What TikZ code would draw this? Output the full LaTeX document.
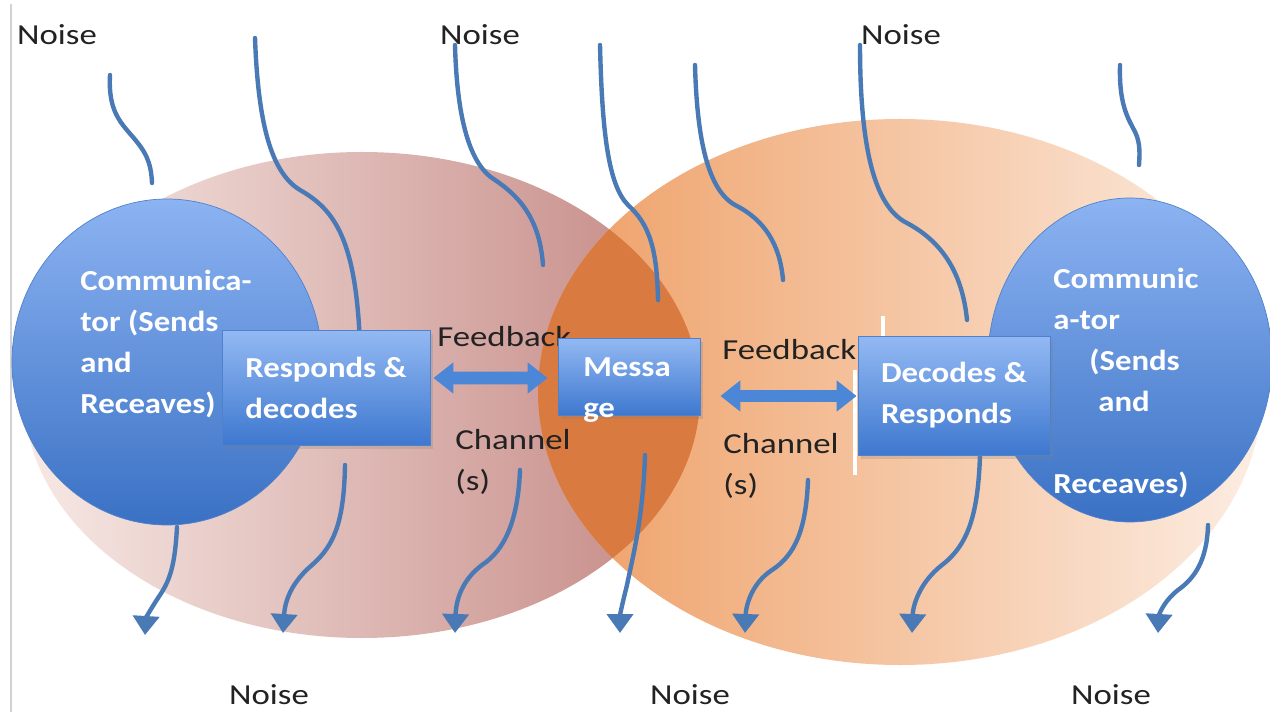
\documentclass[tikz,border=0pt]{standalone}
\usepackage{fontspec}
\setmainfont{Carlito}[FakeStretch=1.2,BoldFeatures={FakeStretch=1.13}]
\usetikzlibrary{arrows.meta,shadows}

\definecolor{noiseblue}{HTML}{4A7AB6}
\definecolor{roseL}{HTML}{F7E9E5}
\definecolor{roseM}{HTML}{D9ACA5}
\definecolor{roseR}{HTML}{C48783}
\definecolor{peachL}{HTML}{EE9E64}
\definecolor{peachM}{HTML}{F2B185}
\definecolor{peachR}{HTML}{FCEDE2}
\definecolor{overlap}{HTML}{D97A41}
\definecolor{commtop}{HTML}{8CB3F2}
\definecolor{commbot}{HTML}{3A71C4}
\definecolor{boxtop}{HTML}{93B9F3}
\definecolor{boxbot}{HTML}{3E78CF}
\definecolor{boxedge}{HTML}{4F82CC}
\definecolor{chanblue}{HTML}{4C86D6}
\definecolor{ink}{HTML}{222222}

\begin{document}
\begin{tikzpicture}[x=0.02cm,y=-0.02cm,line join=round,
  font=\fontsize{16.5}{23.3}\selectfont,
  noise/.style={draw=noiseblue,line width=2.5pt,line cap=round},
  noisearr/.style={noise,-{Triangle[length=0.38cm,width=0.52cm]}},
  lbl/.style={inner sep=0pt,text=ink,align=left},
  circtxt/.style={inner sep=0pt,text=white,align=left,font=\fontsize{16.5}{23.3}\selectfont\bfseries},
  bluebox/.style={draw=boxedge,line width=0.5pt,top color=boxtop,bottom color=boxbot,
    text=white,align=left,inner sep=0pt,font=\fontsize{16.5}{23.3}\selectfont\bfseries,
    drop shadow={opacity=0.25,shadow xshift=1.5pt,shadow yshift=-2pt}},
  dblarrow/.style={draw=chanblue,line width=0.26cm,
    {Triangle[length=0.4cm,width=0.6cm]}-{Triangle[length=0.4cm,width=0.6cm]}}]

  \useasboundingbox (0,0) rectangle (1270,712);
  \fill[white] (0,0) rectangle (1270,712);
  \draw[gray!35,line width=1pt] (11,4) -- (11,712);

  % ---- the two fields of experience -----------------------------------------
  \shade[left color=roseL,middle color=roseM,right color=roseR]
    (362,395) ellipse [x radius=338,y radius=243];
  \shade[left color=peachL,middle color=peachM,right color=peachR]
    (900,392) ellipse [x radius=362,y radius=273];
  \begin{scope}
    \clip (362,395) ellipse [x radius=338,y radius=243];
    \fill[overlap] (900,392) ellipse [x radius=362,y radius=273];
  \end{scope}

  % ---- noise coming in from above -------------------------------------------
  \draw[noise] (110,75) .. controls (108,110) and (120,122) .. (132,136)
                        .. controls (146,152) and (151,162) .. (152,183);
  \draw[noise] (255,38) .. controls (258,120) and (270,172) .. (300,190)
                        .. controls (335,210) and (356,240) .. (360,345);
  \draw[noise] (455,45) .. controls (457,120) and (470,165) .. (495,180)
                        .. controls (525,200) and (540,225) .. (543,265);
  \draw[noise] (600,45) .. controls (602,130) and (608,185) .. (628,205)
                        .. controls (650,225) and (657,250) .. (658,300);
  \draw[noise] (695,65) .. controls (697,140) and (708,190) .. (735,205)
                        .. controls (765,220) and (780,245) .. (783,280);
  \draw[noise] (860,45) .. controls (860,150) and (875,205) .. (905,222)
                        .. controls (940,240) and (962,270) .. (967,320);
  \draw[noise] (1120,65) .. controls (1119,100) and (1126,115) .. (1133,128)
                         .. controls (1140,140) and (1140,150) .. (1139,165);

  % ---- noise going out below ------------------------------------------------
  \draw[noisearr] (177,527) .. controls (175,565) and (170,580) .. (160,595)
                            .. controls (150,610) and (146,618) .. (145,635);
  \draw[noisearr] (345,465) .. controls (344,520) and (335,545) .. (312,565)
                            .. controls (292,582) and (285,600) .. (283,633);
  \draw[noisearr] (520,470) .. controls (518,520) and (505,550) .. (482,565)
                            .. controls (462,580) and (456,600) .. (455,633);
  \draw[noisearr] (645,455) .. controls (643,520) and (632,560) .. (627,585)
                            .. controls (622,605) and (620,615) .. (620,633);
  \draw[noisearr] (808,480) .. controls (806,530) and (795,555) .. (772,570)
                            .. controls (752,583) and (746,605) .. (745,633);
  \draw[noisearr] (980,455) .. controls (978,515) and (968,545) .. (942,565)
                            .. controls (920,582) and (913,605) .. (912,633);
  \draw[noisearr] (1208,525) .. controls (1207,560) and (1195,578) .. (1178,590)
                             .. controls (1163,602) and (1159,615) .. (1158,633);

  % ---- the two communicators ------------------------------------------------
  \shade[top color=commtop,bottom color=commbot,draw=boxedge,line width=0.4pt]
    (167,362) ellipse [x radius=155,y radius=163];
  \shade[top color=commtop,bottom color=commbot,draw=boxedge,line width=0.4pt]
    (1130,360) ellipse [x radius=142,y radius=162];
  \node[circtxt,anchor=west] (lcomm) at (80,344)
    {Communica-\\tor (Sends\\and\\Receaves)};
  \node[circtxt,anchor=west] (rcomm) at (1053,383)
    {Communic\\a-tor\\\hspace*{0.72cm}(Sends\\\hspace*{0.9cm}and\\[0.82cm]Receaves)};

  % ---- channel labels -------------------------------------------------------
  \node[lbl,anchor=west] (lfeed) at (437,337) {Feedback};
  \node[lbl,anchor=west] (lchan) at (455,462) {Channel\\(s)};
  \node[lbl,anchor=west] (rfeed) at (722,350) {Feedbackl};
  \node[lbl,anchor=west] (rchan) at (723,466) {Channel\\(s)};
  \draw[white,line width=2pt] (855,370) -- (855,475) (883,316) -- (883,337);

  % ---- boxes ----------------------------------------------------------------
  \node[bluebox,minimum width=4.16cm,minimum height=2.3cm] (resp) at (326,387.5)
    {Responds \&\\decodes};
  \node[bluebox,minimum width=2.84cm,minimum height=1.54cm] (msg) at (629,376.5) {};
  \node[circtxt] (msgtxt) at ([shift={(-2,13.5)}]msg.center) {Messa\\ge};
  \node[bluebox,minimum width=3.84cm,minimum height=2.38cm] (dec) at (954,395.5)
    {Decodes \&\\Responds};

  % ---- feedback channels ----------------------------------------------------
  \draw[dblarrow] ([shift={(3,-9.5)}]resp.east) -- ([shift={(-10,1.5)}]msg.west);
  \draw[dblarrow] ([shift={(20,19.5)}]msg.east) -- ([shift={(-1,0.5)}]dec.west);

  % ---- noise labels ---------------------------------------------------------
  \foreach \nx/\ny/\nm in {57/35/ntl,480/35/ntm,901/35/ntr,269/695/nbl,690/695/nbm,1111/695/nbr}
    \node[lbl] (\nm) at (\nx,\ny) {Noise};

\end{tikzpicture}
\end{document}
